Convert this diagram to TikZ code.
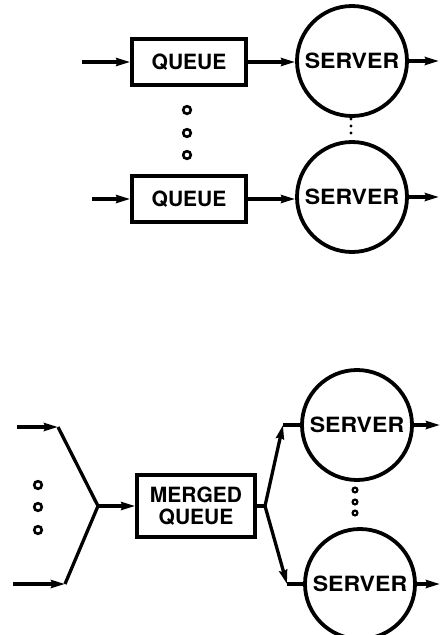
\documentclass[tikz,border=0pt]{standalone}
\usepackage{fontspec}
\setmainfont{TeX Gyre Heros}
\usetikzlibrary{arrows.meta}
\newcommand{\srvtext}{\scalebox{1.1}[1]{SERVER}}
\begin{document}
\begin{tikzpicture}[x=1pt,y=-1pt,
  every node/.style={font=\fontsize{21}{22}\selectfont\bfseries},
  qbox/.style={draw,line width=3.6pt,minimum width=114pt,minimum height=46pt,inner sep=0pt,align=center},
  srv/.style={draw,circle,line width=3.8pt,minimum size=110pt,inner sep=0pt},
  wire/.style={line width=3.3pt,line join=round},
  arr/.style={wire,-{Stealth[length=14pt,width=8pt,inset=1.5pt]}},
  ring/.style={draw,line width=2.6pt}]
\useasboundingbox (0,0) rectangle (441,635);

% ---- separate queues, one per server ----
\node[qbox] (q1) at (189,62) {QUEUE};
\node[srv]  (s1) at (352,61) {\srvtext};
\node[qbox] (q2) at (189,199) {QUEUE};
\node[srv]  (s2) at (352,197) {\srvtext};

\coordinate (in1) at (82,62);
\coordinate (in2) at (92,199);
\coordinate (out1) at (439,61);
\coordinate (out2) at (439,197);

\draw[arr] (in1) -- (q1.west);
\draw[arr] (q1.east) -- (q1.east -| s1.west);
\draw[arr] (s1.east) -- (out1);
\draw[arr] (in2) -- (q2.west);
\draw[arr] (q2.east) -- (q2.east -| s2.west);
\draw[arr] (s2.east) -- (out2);

\foreach \y in {110,133,155} \draw[ring] (187,\y) circle (3.8pt);
\foreach \y in {119,126,133} \fill (351,\y) circle (1.7pt);

% ---- one merged queue feeding all servers ----
\node[qbox,minimum width=118pt,minimum height=62pt] (mq) at (196,506) {MERGED\\QUEUE};
\node[srv] (s3) at (357,425) {\srvtext};
\node[srv] (s4) at (360,584) {\srvtext};

\coordinate (a1) at (17,427);
\coordinate (b1) at (58,427);
\coordinate (a2) at (13,584);
\coordinate (b2) at (65,584);
\coordinate (m)  at (98,506);
\coordinate (br) at (265,506);
\coordinate (u)  at (283,425);
\coordinate (d)  at (287,584);
\coordinate (out3) at (440,425);
\coordinate (out4) at (440,584);

\draw[arr] (a1) -- (b1);
\draw[wire] (b1) -- (m);
\draw[arr] (a2) -- (b2);
\draw[wire] (b2) -- (m);
\draw[arr] (m) -- (mq.west);

\draw[wire] (mq.east) -- (br);
\draw[arr] (br) -- (u);
\draw[wire] (u) -- (u -| s3.west);
\draw[arr] (br) -- (d);
\draw[wire] (d) -- (d -| s4.west);
\draw[arr] (s3.east) -- (out3);
\draw[arr] (s4.east) -- (out4);

\foreach \y in {485,507,530} \draw[ring] (38,\y) circle (3.8pt);
\foreach \y in {490,502,513} \draw[line width=2.2pt] (355,\y) circle (2.4pt);
\end{tikzpicture}
\end{document}
